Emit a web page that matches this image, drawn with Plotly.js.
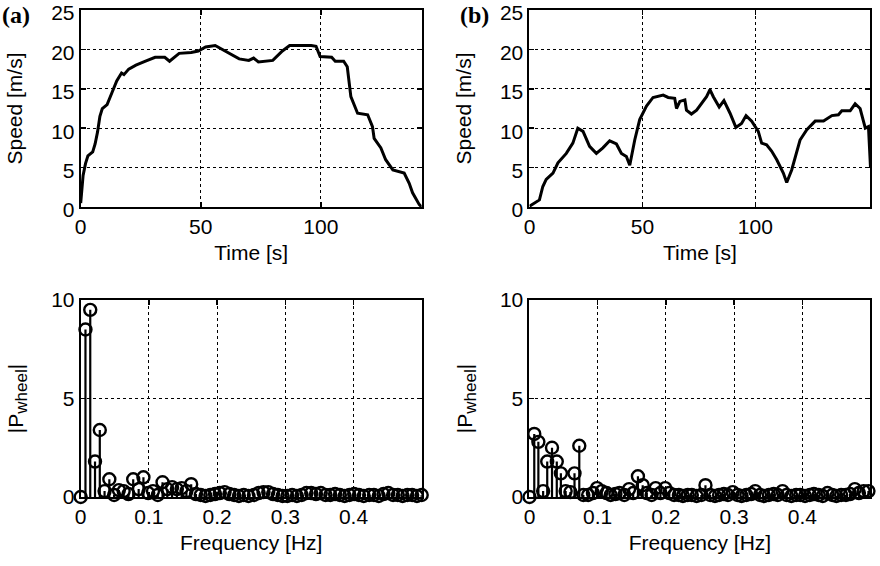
<!DOCTYPE html>
<html>
<head>
<meta charset="utf-8">
<script src="https://cdn.plot.ly/plotly-3.0.1.min.js"></script>
<style>html,body{margin:0;padding:0;background:#fff}#chart{width:880px;height:566px}</style>
</head>
<body>
<div id="chart"></div>
<script>
// ---- (a) speed profile ----
const timeA = [0,0.5,1,2,3,5,6,7,8,9,11,13,15,17,18,20,23,27,31,35,37,41,46,49,52,56,59,63,66,70,72,74,77,80,84,87,96,98,99.7,104.5,106,109.5,111,112.5,115.3,119.5,121.5,122.2,125,127,130,134.7,136.8,138.2,141,142];
const speedA = [0.5,2.5,4,5.5,6.5,7,8,9.5,11.5,12.5,13,14.5,16,17,16.8,17.5,18,18.5,19,19,18.5,19.5,19.6,19.8,20.3,20.5,20,19.3,18.8,18.6,18.9,18.4,18.5,18.6,19.8,20.5,20.5,20.4,19.1,19,18.5,18.5,17.8,14,11.9,11.7,10.2,8.7,7.5,6,4.7,4.3,3,1.8,0.3,0];
// ---- (b) speed profile ----
const timeB = [0,2.2,4.4,5.9,7.4,10.4,12.6,16.3,19.2,21.4,23.7,26.6,29.6,32.5,35.5,38.5,40.7,42.9,44.4,46.6,48.8,51.8,54.7,59.2,61.4,64.3,65.1,66.6,68.8,69.5,71.7,74,76.2,78.4,79.9,81.4,84,86.1,88.8,91.4,93.9,95.9,98.4,101.3,102.8,105,107.2,109.5,112.4,113.9,116.1,119.8,122.8,126.5,130.2,133.9,136.8,138.3,142,144.2,146.4,148.7,150.1,150.6,151];
const speedB = [0.1,0.5,0.9,2.6,3.5,4.3,5.6,6.8,8.1,10,9.6,7.7,6.8,7.5,8.4,8,6.8,6.4,5.3,8.5,11.1,12.8,13.9,14.2,13.9,13.8,12.5,13.4,13.6,12.3,11.8,12.3,13.2,14,14.9,14,12.7,13.5,11.9,10.1,10.6,11.6,10.9,9.6,8.1,7.9,7.1,6,4.3,3.1,4.7,8.5,9.8,10.9,10.9,11.6,11.7,12.2,12.2,13.1,12.5,10,10.2,6.4,5];
// ---- (a) spectrum ----
const freqA = [0,0.007,0.014,0.021,0.028,0.035,0.042,0.049,0.056,0.063,0.070,0.077,0.085,0.092,0.099,0.106,0.113,0.120,0.127,0.134,0.141,0.148,0.155,0.162,0.169,0.176,0.183,0.190,0.197,0.204,0.211,0.218,0.225,0.232,0.239,0.246,0.254,0.261,0.268,0.275,0.282,0.289,0.296,0.303,0.310,0.317,0.324,0.331,0.338,0.345,0.352,0.359,0.366,0.373,0.380,0.387,0.394,0.401,0.408,0.415,0.423,0.430,0.437,0.444,0.451,0.458,0.465,0.472,0.479,0.486,0.493,0.500];
const magA = [0,8.5,9.5,1.8,3.4,0.3,0.9,0.1,0.35,0.3,0.15,0.9,0.4,1.0,0.2,0.3,0.1,0.75,0.4,0.5,0.4,0.45,0.3,0.65,0.15,0.1,0.05,0.1,0.15,0.2,0.25,0.15,0.1,0.05,0.1,0.05,0.1,0.2,0.25,0.25,0.15,0.1,0.05,0.05,0.1,0.05,0.1,0.2,0.2,0.15,0.2,0.1,0.1,0.15,0.1,0.05,0.1,0.15,0.1,0.05,0.1,0.1,0.05,0.15,0.2,0.1,0.1,0.05,0.1,0.1,0.05,0.1];
// ---- (b) spectrum ----
const freqB = [0,0.007,0.013,0.020,0.026,0.033,0.040,0.046,0.053,0.060,0.066,0.073,0.079,0.086,0.093,0.099,0.106,0.113,0.119,0.126,0.132,0.139,0.146,0.152,0.159,0.166,0.172,0.179,0.185,0.192,0.199,0.205,0.212,0.219,0.225,0.232,0.238,0.245,0.252,0.258,0.265,0.272,0.278,0.285,0.291,0.298,0.305,0.311,0.318,0.325,0.331,0.338,0.344,0.351,0.358,0.364,0.371,0.377,0.384,0.391,0.397,0.404,0.411,0.417,0.424,0.430,0.437,0.444,0.450,0.457,0.464,0.470,0.477,0.483,0.490,0.497];
const magB = [0,3.2,2.8,0.3,1.8,2.5,1.8,1.2,0.3,0.25,1.2,2.6,0.1,0.1,0.2,0.45,0.3,0.2,0.1,0.15,0.2,0.1,0.4,0.2,1.05,0.6,0.2,0.1,0.45,0.2,0.45,0.2,0.1,0.1,0.05,0.1,0.1,0.05,0.1,0.6,0.1,0.05,0.1,0.15,0.1,0.25,0.1,0.05,0.1,0.15,0.3,0.1,0.05,0.1,0.15,0.1,0.3,0.1,0.05,0.1,0.1,0.05,0.1,0.15,0.1,0.05,0.2,0.1,0.05,0.1,0.1,0.15,0.4,0.2,0.3,0.3];

function stemXY(fx, fy) {
  const x = [], y = [];
  fx.forEach((f, i) => { x.push(f, f, null); y.push(0, fy[i], null); });
  return {x, y};
}
const sA = stemXY(freqA, magA), sB = stemXY(freqB, magB);

const black = '#000';
const mk = {symbol: 'circle-open', size: 12, color: black, line: {width: 2.4, color: black}};
const traces = [
  {x: timeA, y: speedA, xaxis: 'x', yaxis: 'y', mode: 'lines', line: {color: black, width: 3}},
  {x: timeB, y: speedB, xaxis: 'x2', yaxis: 'y2', mode: 'lines', line: {color: black, width: 3}},
  {x: sA.x, y: sA.y, xaxis: 'x3', yaxis: 'y3', mode: 'lines', line: {color: black, width: 2.2}, cliponaxis: false},
  {x: freqA, y: magA, xaxis: 'x3', yaxis: 'y3', mode: 'markers', cliponaxis: false, marker: mk},
  {x: sB.x, y: sB.y, xaxis: 'x4', yaxis: 'y4', mode: 'lines', line: {color: black, width: 2.2}, cliponaxis: false},
  {x: freqB, y: magB, xaxis: 'x4', yaxis: 'y4', mode: 'markers', cliponaxis: false, marker: mk}
];

const FONT = 'Liberation Sans, Arial, Helvetica, sans-serif';
function ax(extra) {
  return Object.assign({
    showline: true, linecolor: black, linewidth: 2, mirror: 'ticks',
    ticks: 'inside', ticklen: 5, tickwidth: 1.5, tickcolor: black,
    showgrid: true, gridcolor: black, griddash: 'dot', gridwidth: 1,
    zeroline: false, fixedrange: true, automargin: false,
    ticklabeloverflow: 'allow',
    tickfont: {family: FONT, size: 21, color: black}
  }, extra);
}
const tfont = {family: FONT, size: 21, color: black};
const pTitle = '|P<sub><span style="font-size:17px">wheel</span></sub>|';
const dL = [0.0917, 0.4792], dR = [0.6017, 0.9892];
const dT = [0.6343, 0.9823], dB = [0.1219, 0.470];

const layout = {
  width: 880, height: 566,
  margin: {l: 0, r: 0, t: 0, b: 0},
  paper_bgcolor: '#fff', plot_bgcolor: '#fff',
  showlegend: false,
  font: {family: FONT, color: black},
  xaxis: ax({domain: dL, anchor: 'y', range: [0, 142], tickvals: [0, 50, 100], title: {text: 'Time [s]', font: tfont, standoff: 8}}),
  yaxis: ax({domain: dT, anchor: 'x', range: [0, 25], tickvals: [0, 5, 10, 15, 20, 25], ticklabelshift: 3, title: {text: 'Speed [m/s]', font: tfont, standoff: 23}}),
  xaxis2: ax({domain: dR, anchor: 'y2', range: [0, 151], tickvals: [0, 50, 100], title: {text: 'Time [s]', font: tfont, standoff: 8}}),
  yaxis2: ax({domain: dT, anchor: 'x2', range: [0, 25], tickvals: [0, 5, 10, 15, 20, 25], ticklabelshift: 3, title: {text: 'Speed [m/s]', font: tfont, standoff: 23}}),
  xaxis3: ax({domain: dL, anchor: 'y3', range: [0, 0.5], tickvals: [0, 0.1, 0.2, 0.3, 0.4], ticktext: ['0', '0.1', '0.2', '0.3', '0.4'], title: {text: 'Frequency [Hz]', font: tfont, standoff: 8}}),
  yaxis3: ax({domain: dB, anchor: 'x3', range: [0, 10], tickvals: [0, 5, 10], title: {text: pTitle, font: tfont, standoff: 22}}),
  xaxis4: ax({domain: dR, anchor: 'y4', range: [0, 0.5], tickvals: [0, 0.1, 0.2, 0.3, 0.4], ticktext: ['0', '0.1', '0.2', '0.3', '0.4'], title: {text: 'Frequency [Hz]', font: tfont, standoff: 8}}),
  yaxis4: ax({domain: dB, anchor: 'x4', range: [0, 10], tickvals: [0, 5, 10], title: {text: pTitle, font: tfont, standoff: 22}}),
  annotations: [
    {text: '<b>(a)</b>', xref: 'paper', yref: 'paper', x: 0, y: 1, xanchor: 'left', yanchor: 'top', yshift: 0, showarrow: false,
     font: {family: 'Liberation Serif, Times New Roman, serif', size: 24, color: black}},
    {text: '<b>(b)</b>', xref: 'paper', yref: 'paper', x: 458 / 880, y: 1, xanchor: 'left', yanchor: 'top', yshift: 0, showarrow: false,
     font: {family: 'Liberation Serif, Times New Roman, serif', size: 24, color: black}}
  ]
};

Plotly.newPlot('chart', traces, layout, {staticPlot: true, displayModeBar: false});
</script>
</body>
</html>
